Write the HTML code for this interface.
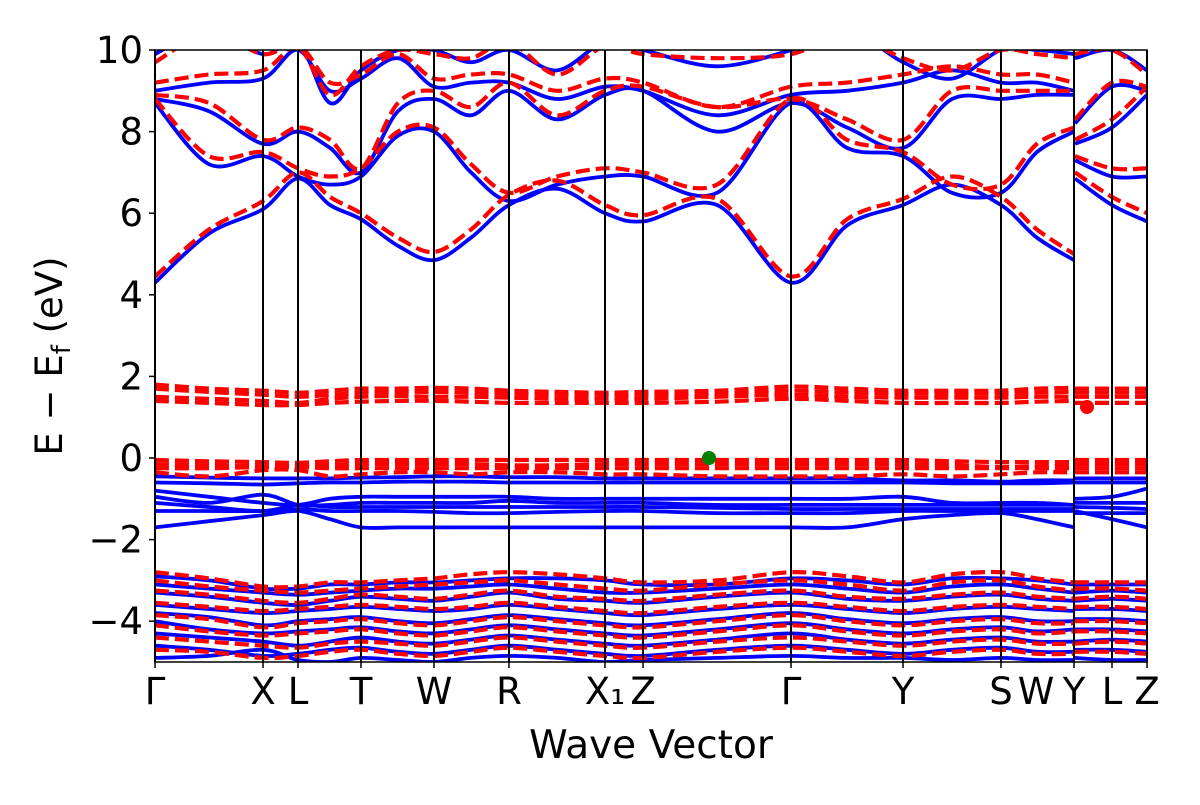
<!DOCTYPE html>
<html><head><meta charset="utf-8"><style>
body{margin:0;background:#fff;}
svg text{font-family:"DejaVu Sans","Liberation Sans",sans-serif;fill:#000;}
</style></head><body>
<svg id="chart" width="1200" height="800" xmlns="http://www.w3.org/2000/svg">
<defs><clipPath id="clip"><rect x="155" y="50" width="992" height="612"/></clipPath></defs>
<g id="bands" clip-path="url(#clip)"></g>
<g id="vlines"></g>
<g id="marks"></g>
<rect x="155" y="50" width="992" height="612" fill="none" stroke="#000" stroke-width="1.5"/>
<g id="yticks"></g>
<g id="xticks"></g>
<text x="62" y="356" font-size="37" text-anchor="middle" transform="rotate(-90 62 356)">E − E<tspan font-size="26" dy="8">f</tspan><tspan dy="-8"> (eV)</tspan></text>
<text x="651" y="758" font-size="39" text-anchor="middle">Wave Vector</text>
</svg>
<script>
// k sample positions (path distance units); break between index 20 and 21
const kSamples=[0,54,108,143,175,206,243,279,316,354,402,450,488,562,636,692,748,797,846,882,919,920,957,992];
const kTickPos=[0,108,143,206,279,354,450,488,636,748,846,919,957,992];
const kTickLabels=["Γ","X","L","T","W","R","X₁","Z","Γ","Y","S","Y","L","Z"];
const yTicks=[-4,-2,0,2,4,6,8,10];
const blueBands=[
[4.3,5.5,6.1,6.85,6.2,5.85,5.2,4.85,5.4,6.2,6.6,6.0,5.8,6.2,4.3,5.7,6.2,6.7,6.2,5.4,4.85,6.85,6.2,5.8],
[8.7,7.2,7.4,6.9,6.7,6.9,7.9,8.0,7.0,6.3,6.7,6.9,6.9,6.5,8.7,7.6,7.4,6.5,6.5,7.5,8.0,7.3,6.9,6.9],
[8.8,8.5,7.7,8.0,7.6,7.0,8.5,8.8,8.4,9.0,8.3,8.9,9.0,8.0,8.7,8.1,7.6,8.8,8.8,8.9,8.9,7.7,8.1,8.9],
[9.0,9.2,9.3,10.0,9.0,9.3,9.8,9.1,9.2,9.2,8.8,9.1,9.0,8.4,8.9,9.0,9.2,9.5,9.2,9.2,9.0,8.2,9.1,9.0],
[9.9,10.5,9.9,10.2,8.7,9.5,10,10,9.7,10,9.5,10.2,10,9.6,10,10.5,9.7,9.3,10,10,9.9,9.8,10,9.5],
[-0.45,-0.48,-0.5,-0.5,-0.5,-0.48,-0.47,-0.45,-0.45,-0.47,-0.47,-0.5,-0.5,-0.5,-0.5,-0.5,-0.55,-0.55,-0.58,-0.55,-0.55,-0.5,-0.5,-0.5],
[-0.6,-0.62,-0.65,-0.62,-0.6,-0.6,-0.58,-0.58,-0.58,-0.6,-0.6,-0.6,-0.6,-0.6,-0.6,-0.6,-0.6,-0.62,-0.62,-0.62,-0.6,-0.6,-0.6,-0.6],
[-0.8,-0.95,-1.1,-1.15,-1.0,-0.95,-0.95,-0.95,-0.95,-0.95,-1.0,-1.0,-1.0,-1.0,-1.0,-1.0,-0.95,-1.1,-1.1,-1.1,-1.15,-1.0,-0.95,-0.75],
[-0.95,-1.1,-0.9,-1.15,-1.15,-1.1,-1.1,-1.1,-1.1,-1.05,-1.1,-1.1,-1.1,-1.15,-1.15,-1.15,-1.15,-1.15,-1.15,-1.15,-1.15,-1.1,-1.1,-1.1],
[-1.1,-1.2,-1.3,-1.15,-1.2,-1.2,-1.2,-1.2,-1.2,-1.2,-1.2,-1.2,-1.2,-1.22,-1.25,-1.25,-1.25,-1.25,-1.25,-1.25,-1.25,-1.2,-1.22,-1.25],
[-1.3,-1.3,-1.3,-1.25,-1.3,-1.3,-1.3,-1.32,-1.35,-1.35,-1.32,-1.3,-1.3,-1.35,-1.35,-1.35,-1.3,-1.3,-1.3,-1.3,-1.3,-1.35,-1.35,-1.35],
[-1.7,-1.55,-1.4,-1.3,-1.5,-1.7,-1.7,-1.7,-1.7,-1.7,-1.7,-1.7,-1.7,-1.7,-1.7,-1.7,-1.5,-1.4,-1.35,-1.5,-1.7,-1.3,-1.5,-1.7],
[-2.9,-3.0,-3.2,-3.2,-3.1,-3.1,-3.05,-3.05,-3.0,-2.95,-2.95,-3.0,-3.1,-3.1,-2.95,-3.0,-3.1,-2.95,-2.95,-3.0,-3.1,-3.1,-3.1,-3.1],
[-3.1,-3.2,-3.3,-3.35,-3.3,-3.25,-3.2,-3.2,-3.15,-3.1,-3.2,-3.3,-3.3,-3.2,-3.1,-3.2,-3.3,-3.15,-3.1,-3.2,-3.3,-3.3,-3.25,-3.3],
[-3.3,-3.4,-3.55,-3.6,-3.5,-3.4,-3.45,-3.5,-3.4,-3.3,-3.45,-3.5,-3.55,-3.4,-3.3,-3.45,-3.5,-3.4,-3.35,-3.45,-3.5,-3.5,-3.45,-3.5],
[-3.6,-3.7,-3.8,-3.75,-3.7,-3.65,-3.7,-3.75,-3.7,-3.6,-3.7,-3.8,-3.85,-3.7,-3.6,-3.7,-3.8,-3.7,-3.65,-3.7,-3.75,-3.7,-3.7,-3.75],
[-3.8,-3.9,-4.1,-4.0,-3.95,-3.9,-4.0,-4.05,-3.95,-3.85,-3.95,-4.05,-4.1,-3.95,-3.8,-3.95,-4.05,-3.95,-3.9,-4.0,-4.0,-3.95,-3.95,-4.0],
[-4.0,-4.2,-4.3,-4.25,-4.2,-4.15,-4.25,-4.3,-4.2,-4.1,-4.2,-4.3,-4.35,-4.2,-4.05,-4.2,-4.3,-4.2,-4.15,-4.25,-4.2,-4.2,-4.2,-4.25],
[-4.3,-4.4,-4.5,-4.6,-4.5,-4.4,-4.5,-4.55,-4.45,-4.35,-4.45,-4.55,-4.6,-4.45,-4.3,-4.45,-4.55,-4.45,-4.4,-4.5,-4.5,-4.5,-4.45,-4.5],
[-4.6,-4.7,-4.85,-4.8,-4.7,-4.65,-4.75,-4.8,-4.7,-4.6,-4.7,-4.8,-4.85,-4.7,-4.6,-4.7,-4.8,-4.7,-4.65,-4.75,-4.75,-4.7,-4.7,-4.75],
[-4.9,-4.85,-4.7,-4.95,-5.0,-4.9,-4.95,-5.0,-4.9,-4.85,-4.9,-5.0,-4.95,-4.9,-4.85,-4.9,-4.9,-4.95,-4.9,-4.95,-4.95,-4.9,-4.95,-4.95]
];
const redBands=[
[4.45,5.6,6.3,7.0,6.4,6.0,5.4,5.05,5.6,6.45,6.8,6.2,5.95,6.35,4.45,5.85,6.35,6.9,6.4,5.6,5.0,7.0,6.4,6.0],
[8.8,7.4,7.5,7.1,6.9,7.1,8.0,8.1,7.2,6.5,6.9,7.1,7.0,6.7,8.8,7.8,7.5,6.7,6.7,7.7,8.1,7.4,7.1,7.1],
[8.9,8.7,7.8,8.1,7.8,7.1,8.7,9.0,8.6,9.2,8.4,9.0,9.1,8.6,8.8,8.3,7.8,9.0,9.0,9.0,9.0,7.8,8.3,9.1],
[9.2,9.4,9.5,10.1,9.2,9.4,9.9,9.3,9.4,9.4,9.0,9.3,9.2,8.6,9.1,9.2,9.4,9.6,9.4,9.4,9.2,8.3,9.2,9.1],
[9.7,10.4,9.9,10.1,8.9,9.6,10,9.9,9.8,10.2,9.4,10.1,9.9,9.8,9.9,10.4,9.8,9.5,10,9.9,9.8,9.9,10,9.4],
[1.8,1.7,1.65,1.6,1.65,1.7,1.7,1.72,1.7,1.65,1.62,1.6,1.62,1.65,1.75,1.7,1.65,1.65,1.65,1.7,1.72,1.7,1.7,1.7],
[1.7,1.62,1.55,1.5,1.55,1.6,1.62,1.62,1.6,1.58,1.55,1.55,1.55,1.58,1.65,1.6,1.58,1.58,1.58,1.6,1.62,1.6,1.6,1.6],
[1.5,1.45,1.4,1.35,1.45,1.5,1.52,1.5,1.5,1.48,1.45,1.45,1.45,1.5,1.55,1.5,1.48,1.48,1.48,1.5,1.5,1.5,1.5,1.5],
[1.4,1.35,1.3,1.3,1.35,1.38,1.4,1.4,1.38,1.35,1.35,1.35,1.35,1.38,1.45,1.4,1.35,1.35,1.35,1.38,1.4,1.35,1.35,1.35],
[-0.05,-0.08,-0.1,-0.12,-0.08,-0.05,-0.05,-0.05,-0.05,-0.05,-0.05,-0.05,-0.05,-0.05,-0.05,-0.05,-0.05,-0.08,-0.1,-0.1,-0.1,-0.05,-0.05,-0.05],
[-0.15,-0.18,-0.2,-0.2,-0.18,-0.15,-0.15,-0.15,-0.15,-0.18,-0.18,-0.15,-0.15,-0.15,-0.15,-0.15,-0.15,-0.18,-0.22,-0.2,-0.18,-0.15,-0.15,-0.15],
[-0.25,-0.25,-0.22,-0.22,-0.25,-0.25,-0.25,-0.25,-0.25,-0.25,-0.25,-0.25,-0.25,-0.25,-0.25,-0.25,-0.25,-0.25,-0.25,-0.25,-0.25,-0.25,-0.25,-0.25],
[-0.35,-0.45,-0.3,-0.3,-0.45,-0.4,-0.35,-0.35,-0.4,-0.35,-0.35,-0.4,-0.4,-0.45,-0.45,-0.45,-0.4,-0.45,-0.4,-0.35,-0.35,-0.35,-0.35,-0.35],
[-2.8,-2.95,-3.15,-3.15,-3.05,-3.05,-3.0,-2.95,-2.85,-2.8,-2.85,-2.95,-3.05,-3.0,-2.8,-2.9,-3.05,-2.85,-2.8,-2.95,-3.05,-3.05,-3.05,-3.05],
[-3.0,-3.15,-3.25,-3.3,-3.25,-3.2,-3.15,-3.1,-3.05,-3.0,-3.1,-3.2,-3.25,-3.1,-3.0,-3.1,-3.25,-3.05,-3.0,-3.15,-3.25,-3.2,-3.2,-3.25],
[-3.25,-3.35,-3.5,-3.55,-3.45,-3.35,-3.4,-3.45,-3.35,-3.25,-3.4,-3.45,-3.5,-3.35,-3.25,-3.4,-3.45,-3.35,-3.3,-3.4,-3.45,-3.45,-3.4,-3.45],
[-3.55,-3.65,-3.75,-3.7,-3.65,-3.6,-3.65,-3.7,-3.65,-3.55,-3.65,-3.75,-3.8,-3.65,-3.55,-3.65,-3.75,-3.65,-3.6,-3.65,-3.7,-3.65,-3.65,-3.7],
[-3.85,-3.95,-4.15,-4.05,-4.0,-3.95,-4.05,-4.1,-4.0,-3.9,-4.0,-4.1,-4.15,-4.0,-3.85,-4.0,-4.1,-4.0,-3.95,-4.05,-4.05,-4.0,-4.0,-4.05],
[-4.1,-4.25,-4.35,-4.3,-4.25,-4.2,-4.3,-4.35,-4.25,-4.15,-4.25,-4.35,-4.4,-4.25,-4.1,-4.25,-4.35,-4.25,-4.2,-4.3,-4.25,-4.25,-4.25,-4.3],
[-4.4,-4.5,-4.6,-4.65,-4.55,-4.5,-4.55,-4.6,-4.5,-4.4,-4.5,-4.6,-4.65,-4.5,-4.4,-4.5,-4.6,-4.5,-4.45,-4.55,-4.55,-4.55,-4.5,-4.55],
[-4.7,-4.75,-4.9,-4.85,-4.75,-4.7,-4.8,-4.85,-4.75,-4.65,-4.75,-4.85,-4.9,-4.75,-4.65,-4.75,-4.85,-4.75,-4.7,-4.8,-4.8,-4.75,-4.75,-4.8]
];
const markerK=[554,932];
const markerE=[0,1.25];
const markerColors=["green","red"];

const NS="http://www.w3.org/2000/svg";
const X0=155,X1=1147,Y0=50,Y1=662,kMax=992,eMin=-5,eMax=10;
const sx=k=>X0+(k/kMax)*(X1-X0);
const sy=e=>Y1-(e-eMin)/(eMax-eMin)*(Y1-Y0);
function segPath(pts){
  let d="M"+pts[0][0].toFixed(1)+","+pts[0][1].toFixed(1);
  for(let i=0;i<pts.length-1;i++){
    const p0=pts[Math.max(i-1,0)],p1=pts[i],p2=pts[i+1],p3=pts[Math.min(i+2,pts.length-1)];
    const c1=[p1[0]+(p2[0]-p0[0])/6,p1[1]+(p2[1]-p0[1])/6];
    const c2=[p2[0]-(p3[0]-p1[0])/6,p2[1]-(p3[1]-p1[1])/6];
    d+="C"+c1[0].toFixed(1)+","+c1[1].toFixed(1)+" "+c2[0].toFixed(1)+","+c2[1].toFixed(1)+" "+p2[0].toFixed(1)+","+p2[1].toFixed(1);
  }
  return d;
}
function bandPath(vals){
  const a=[],b=[];
  vals.forEach((v,i)=>{const p=[sx(kSamples[i]),sy(v)];(i<=20?a:b).push(p);});
  return segPath(a)+segPath(b);
}
const gb=document.getElementById("bands");
blueBands.forEach((v,i)=>{
  const p=document.createElementNS(NS,"path");
  p.setAttribute("d",bandPath(v));
  p.setAttribute("fill","none");p.setAttribute("stroke","#0000ff");p.setAttribute("stroke-width","3.8");
  
  
  gb.appendChild(p);
});
redBands.forEach((v,i)=>{
  const p=document.createElementNS(NS,"path");
  p.setAttribute("d",bandPath(v));
  p.setAttribute("fill","none");p.setAttribute("stroke","#ff0000");p.setAttribute("stroke-width","4.2");
  p.setAttribute("stroke-dasharray","14,6");
  
  
  gb.appendChild(p);
});
const gv=document.getElementById("vlines");
kTickPos.forEach(k=>{
  const l=document.createElementNS(NS,"line");
  l.setAttribute("x1",sx(k));l.setAttribute("x2",sx(k));l.setAttribute("y1",Y0);l.setAttribute("y2",Y1);
  l.setAttribute("stroke","#000");l.setAttribute("stroke-width","2");
  
  
  gv.appendChild(l);
});
const gm=document.getElementById("marks");
markerK.forEach((k,i)=>{
  const c=document.createElementNS(NS,"circle");
  c.setAttribute("cx",sx(k));c.setAttribute("cy",sy(markerE[i]));c.setAttribute("r","7");c.setAttribute("fill",markerColors[i]);
  
  
  gm.appendChild(c);
});
const gy=document.getElementById("yticks");
yTicks.forEach(t=>{
  const l=document.createElementNS(NS,"line");
  l.setAttribute("x1",X0-6);l.setAttribute("x2",X0);l.setAttribute("y1",sy(t));l.setAttribute("y2",sy(t));
  l.setAttribute("stroke","#000");l.setAttribute("stroke-width","1.5");
  
  
  gy.appendChild(l);
  const tx=document.createElementNS(NS,"text");
  tx.setAttribute("x",X0-12);tx.setAttribute("y",sy(t)+13);tx.setAttribute("text-anchor","end");tx.setAttribute("font-size","37");
  tx.textContent=t<0?"−"+Math.abs(t):String(t);
  
  
  gy.appendChild(tx);
});
const gx=document.getElementById("xticks");
kTickPos.forEach((k,i)=>{
  const l=document.createElementNS(NS,"line");
  l.setAttribute("x1",sx(k));l.setAttribute("x2",sx(k));l.setAttribute("y1",Y1);l.setAttribute("y2",Y1+6);
  l.setAttribute("stroke","#000");l.setAttribute("stroke-width","1.5");
  
  
  gx.appendChild(l);
  const tx=document.createElementNS(NS,"text");
  tx.setAttribute("x",sx(k));tx.setAttribute("y",Y1+42);tx.setAttribute("text-anchor","middle");tx.setAttribute("font-size","37");
  tx.textContent=kTickLabels[i];
  
  
  gx.appendChild(tx);
});
const w=document.createElementNS(NS,"text");
w.setAttribute("x",1036);w.setAttribute("y",Y1+42);w.setAttribute("text-anchor","middle");w.setAttribute("font-size","37");
w.textContent="W";


gx.appendChild(w);
</script>
</body></html>
